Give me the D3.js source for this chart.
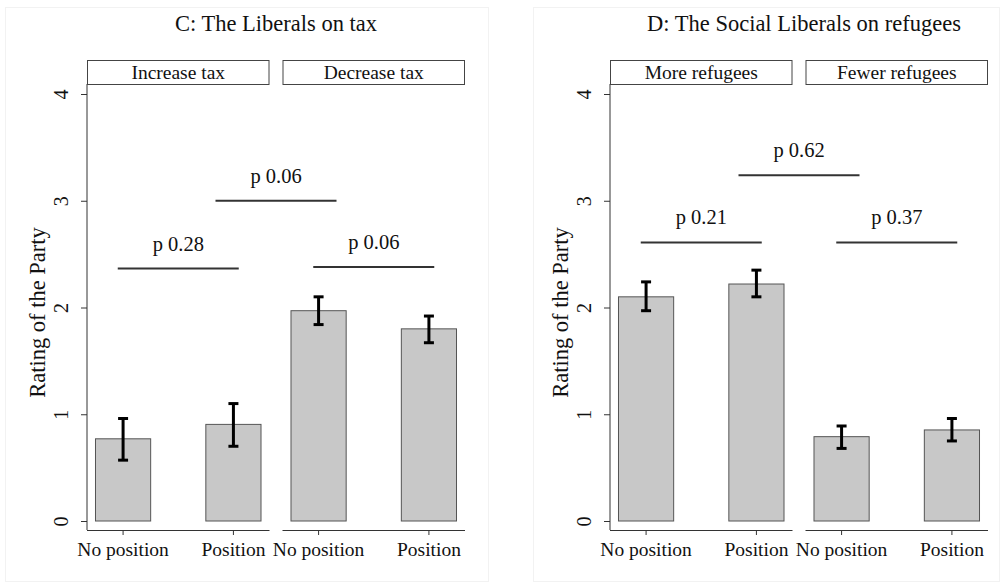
<!DOCTYPE html>
<html lang="en">
<head>
<meta charset="utf-8">
<title>Party ratings</title>
<style>
  body { margin: 0; background: #fff; }
  svg text { font-family: "Liberation Serif", "Times New Roman", Tinos, Times, serif; fill: #111; }
</style>
</head>
<body>
<div id="chart"></div>
<script src="https://cdn.jsdelivr.net/npm/d3@7"></script>
<script>
// values
var categories = ["No position", "Position"];
var yTicks = [0, 1, 2, 3, 4];
var yLabel = "Rating of the Party";

var titleC = "C: The Liberals on tax";
var groupsC = ["Increase tax", "Decrease tax"];
var meanC = [[0.77, 0.905], [1.97, 1.80]];
var lowC  = [[0.57, 0.70], [1.84, 1.67]];
var highC = [[0.96, 1.10], [2.10, 1.92]];
var pLabelsC = ["p 0.28", "p 0.06", "p 0.06"];
var pPairsC = [[0, 1], [1, 2], [2, 3]];
var pLevelsC = [2.365, 3.0, 2.38];

var titleD = "D: The Social Liberals on refugees";
var groupsD = ["More refugees", "Fewer refugees"];
var meanD = [[2.10, 2.22], [0.79, 0.853]];
var lowD  = [[1.97, 2.10], [0.68, 0.75]];
var highD = [[2.24, 2.35], [0.89, 0.96]];
var pLabelsD = ["p 0.21", "p 0.62", "p 0.37"];
var pPairsD = [[0, 1], [1, 2], [2, 3]];
var pLevelsD = [2.61, 3.24, 2.61];

var FONT = "'Liberation Serif', 'Times New Roman', Tinos, Times, serif";
var W = 1003, H = 584;
var svg = d3.select("#chart").append("svg").attr("width", W).attr("height", H)
  .attr("font-family", FONT);

// faint graph region frames
svg.append("rect").attr("x", 5.5).attr("y", 7.5).attr("width", 483).attr("height", 574)
  .attr("fill", "none").attr("stroke", "#f2f2f2");
svg.append("rect").attr("x", 533.5).attr("y", 7.5).attr("width", 466).attr("height", 574)
  .attr("fill", "none").attr("stroke", "#f2f2f2");

var y = d3.scaleLinear().domain([0, 4]).range([521, 94]);

drawPanel(87, titleC, groupsC, meanC, lowC, highC, pLabelsC, pPairsC, pLevelsC, 0);
drawPanel(610, titleD, groupsD, meanD, lowD, highD, pLabelsD, pPairsD, pLevelsD, 5);

function drawPanel(left, title, groups, means, lows, highs, pLabels, pPairs, pLevels, titleShift) {
  var panelW = 378, gap = 13;
  var subW = (panelW - gap) / 2;
  var plotTop = 84, axisY = 530;
  var g = svg.append("g").attr("transform", "translate(" + left + ",0)");

  g.append("text").attr("x", panelW / 2 + titleShift).attr("y", 31).attr("text-anchor", "middle")
    .style("font-size", "22.5px").text(title);

  // y axis
  var yAxis = d3.axisLeft(y).tickValues(yTicks).tickSize(6).tickFormat(d3.format("d"));
  var ya = g.append("g").call(yAxis).attr("font-family", FONT);
  ya.select(".domain").remove();
  ya.selectAll(".tick line").attr("stroke", "#333");
  ya.selectAll(".tick text").attr("x", 0).attr("y", 0).attr("dy", null)
    .attr("text-anchor", "middle")
    .attr("transform", "translate(-19,0) rotate(-90)")
    .style("font-size", "20px")
    .attr("fill", "#111");
  g.append("line").attr("x1", 0).attr("x2", 0).attr("y1", plotTop).attr("y2", axisY)
    .attr("stroke", "#333");

  g.append("text")
    .attr("transform", "translate(" + (-42) + "," + ((y(0) + y(4)) / 2 + 5) + ") rotate(-90)")
    .attr("text-anchor", "middle").style("font-size", "22.5px").text(yLabel);

  var x = d3.scaleBand().domain(categories).range([0, subW])
    .paddingInner(0.5).paddingOuter(0.077);

  var centers = [];
  groups.forEach(function(name, gi) {
    var sx = gi * (subW + gap);
    var s = g.append("g").attr("transform", "translate(" + sx + ",0)");

    // strip
    s.append("rect").attr("x", 0.5).attr("y", 60.5).attr("width", subW - 1).attr("height", 24)
      .attr("fill", "#fff").attr("stroke", "#444");
    s.append("text").attr("x", subW / 2).attr("y", 79).attr("text-anchor", "middle")
      .style("font-size", "19.5px").text(name);

    var bars = categories.map(function(c, ci) {
      return { cat: c, mean: means[gi][ci], lo: lows[gi][ci], hi: highs[gi][ci] };
    });

    s.selectAll("rect.bar").data(bars).enter().append("rect").attr("class", "bar")
      .attr("x", function(d) { return x(d.cat); })
      .attr("width", x.bandwidth())
      .attr("y", function(d) { return y(d.mean); })
      .attr("height", function(d) { return y(0) - y(d.mean); })
      .attr("fill", "#c8c8c8").attr("stroke", "#555").attr("stroke-width", 1);

    var cx = function(d) { return x(d.cat) + x.bandwidth() / 2; };
    s.selectAll("line.err").data(bars).enter().append("line").attr("class", "err")
      .attr("x1", cx).attr("x2", cx)
      .attr("y1", function(d) { return y(d.lo); }).attr("y2", function(d) { return y(d.hi); })
      .attr("stroke", "#000").attr("stroke-width", 3);
    ["lo", "hi"].forEach(function(k) {
      s.selectAll("line.cap-" + k).data(bars).enter().append("line").attr("class", "cap-" + k)
        .attr("x1", function(d) { return cx(d) - 5; }).attr("x2", function(d) { return cx(d) + 5; })
        .attr("y1", function(d) { return y(d[k]); }).attr("y2", function(d) { return y(d[k]); })
        .attr("stroke", "#000").attr("stroke-width", 3);
    });

    // x axis
    var xa = s.append("g").attr("transform", "translate(0," + axisY + ")")
      .call(d3.axisBottom(x).tickSize(5).tickSizeOuter(0)).attr("font-family", FONT);
    xa.select(".domain").attr("stroke", "#333").attr("d", "M0,0.5H" + subW);
    xa.selectAll(".tick line").attr("stroke", "#333");
    xa.selectAll(".tick text").attr("y", 26).attr("dy", null)
      .style("font-size", "19.5px").attr("fill", "#111");

    bars.forEach(function(d) { centers.push(sx + cx(d)); });
  });

  // p-value brackets
  pLabels.forEach(function(lab, i) {
    var mid = (centers[pPairs[i][0]] + centers[pPairs[i][1]]) / 2;
    var ly = y(pLevels[i]);
    g.append("line").attr("x1", mid - 60.5).attr("x2", mid + 60.5)
      .attr("y1", ly).attr("y2", ly).attr("stroke", "#333").attr("stroke-width", 2);
    g.append("text").attr("x", mid).attr("y", ly - 18).attr("text-anchor", "middle")
      .style("font-size", "20.5px").text(lab);
  });
}
</script>
</body>
</html>
